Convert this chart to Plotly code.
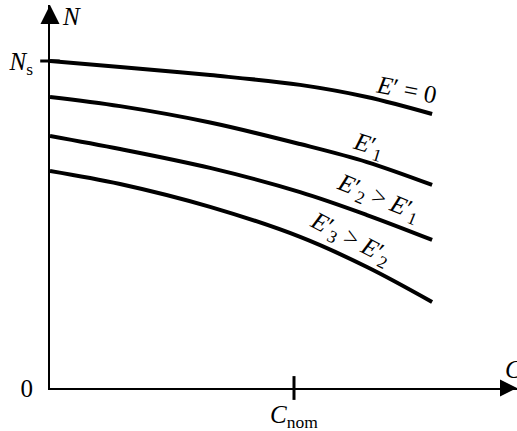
import plotly.graph_objects as go

# Torque (C, in units of C_nom) and speed (N, in units of N_s)
c_points = [0.0, 0.287, 0.656, 1.025, 1.299, 1.566]
n_e0 = [1.000, 0.982, 0.957, 0.927, 0.890, 0.838]
n_e1 = [0.890, 0.862, 0.812, 0.746, 0.691, 0.621]
n_e2 = [0.771, 0.731, 0.673, 0.599, 0.529, 0.453]
n_e3 = [0.664, 0.624, 0.554, 0.462, 0.370, 0.263]
series_labels = ["<i>E</i>′ = 0", "<i>E</i>′<sub>1</sub>",
                 "<i>E</i>′<sub>2</sub> > <i>E</i>′<sub>1</sub>",
                 "<i>E</i>′<sub>3</sub> > <i>E</i>′<sub>2</sub>"]
c_nom = 1.0
n_s = 1.0

W, H = 517, 431
ML, MB, MT = 50, 43, 5
px_per_c = 244.0
px_per_n = 327.0
x_max = (W - ML) / px_per_c
y_max = (H - MB - MT) / px_per_n

FONT = "Liberation Serif"
fig = go.Figure()

for ys in (n_e0, n_e1, n_e2, n_e3):
    fig.add_trace(go.Scatter(x=c_points, y=ys, mode="lines",
                             line=dict(color="black", width=4, shape="spline", smoothing=1.0),
                             hoverinfo="skip", showlegend=False))

# N_s tick on the y axis and C_nom tick on the x axis
fig.add_trace(go.Scatter(x=[0], y=[n_s], mode="markers", cliponaxis=False,
                         marker=dict(symbol="line-ew", size=14, line=dict(color="black", width=3)),
                         hoverinfo="skip", showlegend=False))
fig.add_trace(go.Scatter(x=[c_nom], y=[0], mode="markers", cliponaxis=False,
                         marker=dict(symbol="line-ns", size=17, line=dict(color="black", width=3)),
                         hoverinfo="skip", showlegend=False))
# axis arrowheads (tip sits on the end of each axis)
fig.add_trace(go.Scatter(x=[0], y=[y_max], mode="markers", cliponaxis=False,
                         marker=dict(symbol="arrow-up", size=19, color="black",
                                     line=dict(width=0)),
                         hoverinfo="skip", showlegend=False))
fig.add_trace(go.Scatter(x=[x_max], y=[0], mode="markers", cliponaxis=False,
                         marker=dict(symbol="arrow-right", size=17, color="black",
                                     line=dict(width=0)),
                         hoverinfo="skip", showlegend=False))

label_pos = [(1.463, 0.912, 11), (1.307, 0.738, 17), (1.346, 0.580, 22), (1.232, 0.455, 27)]
for txt, (lx, ly, ang) in zip(series_labels, label_pos):
    fig.add_annotation(x=lx, y=ly, text=txt, showarrow=False, textangle=ang,
                       xanchor="center", yanchor="middle",
                       font=dict(family=FONT, size=25, color="black"))

fig.add_annotation(xref="paper", yref="paper", x=(71 - ML) / (W - ML), y=(H - MB - 16) / (H - MB - MT),
                   text="<i>N</i>", showarrow=False, xanchor="center", yanchor="middle",
                   font=dict(family=FONT, size=25, color="black"))
fig.add_annotation(xref="paper", yref="paper", x=(503 - ML) / (W - ML), y=(H - MB - 369) / (H - MB - MT),
                   text="<i>C</i>", showarrow=False, xanchor="left", yanchor="middle",
                   font=dict(family=FONT, size=25, color="black"))

fig.update_layout(
    width=W, height=H, paper_bgcolor="white", plot_bgcolor="white",
    margin=dict(l=ML, r=0, t=MT, b=MB, autoexpand=False),
    showlegend=False,
    xaxis=dict(range=[0, x_max], showgrid=False, zeroline=False, showline=True,
               automargin=False,
               linecolor="black", linewidth=2, tickvals=[c_nom],
               ticktext=["<i>C</i><sub>nom</sub>"], ticks="", ticklabelstandoff=3,
               tickfont=dict(family=FONT, size=25, color="black")),
    yaxis=dict(range=[0, y_max], showgrid=False, zeroline=False, showline=True,
               automargin=False,
               linecolor="black", linewidth=2, tickvals=[0, n_s],
               ticktext=["0", "<i>N</i><sub>s</sub>"], ticks="", ticklabelstandoff=10,
               tickfont=dict(family=FONT, size=25, color="black")),
)

fig.write_html("out.html", config={"displayModeBar": False},
               post_script="document.body.style.margin='0';")
